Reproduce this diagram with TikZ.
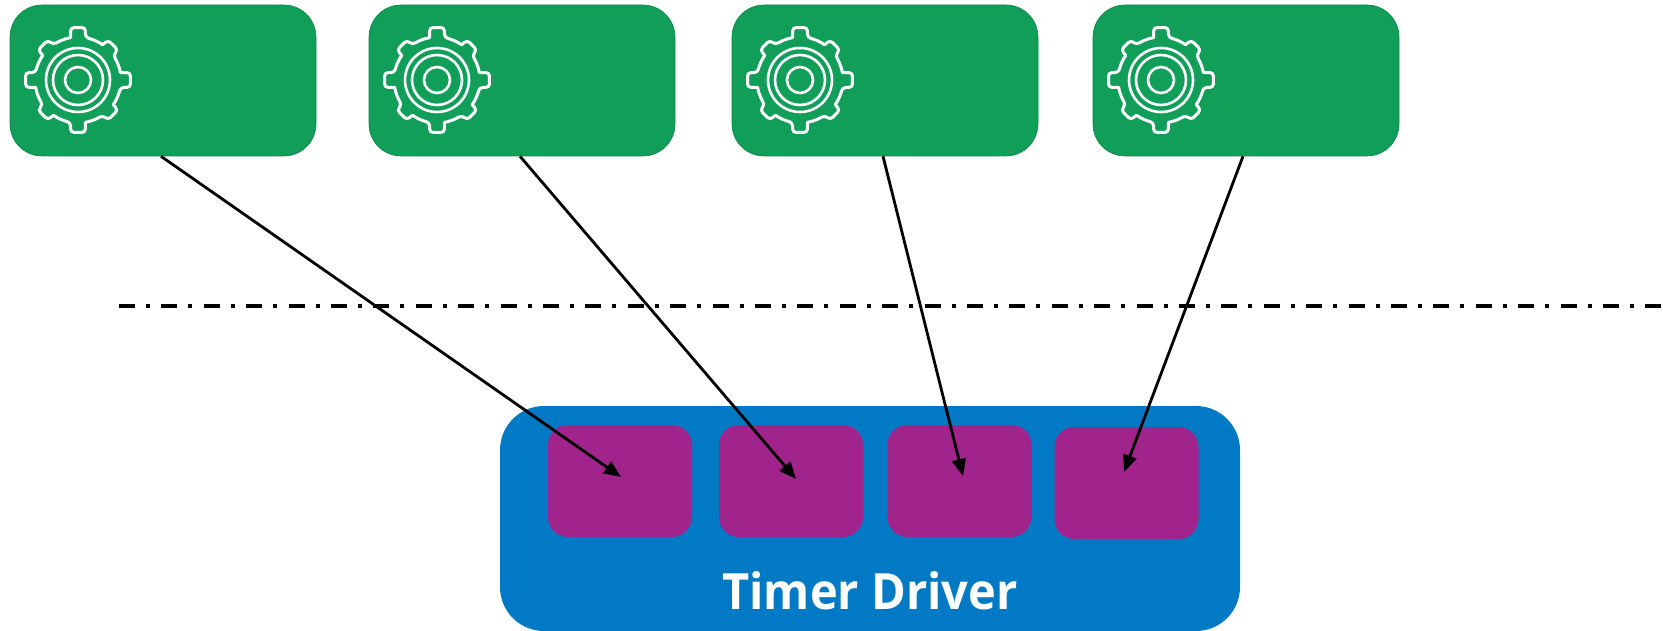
\documentclass[tikz,border=0pt]{standalone}
\usepackage{fontspec}
\setmainfont{Open Sans}
\usetikzlibrary{arrows.meta}
\definecolor{gbox}{HTML}{119E59}
\definecolor{bbox}{HTML}{0279C4}
\definecolor{pbox}{HTML}{A0248B}
\tikzset{
  x=1pt,y=-1pt,
  taskbox/.style={draw=gbox!85!black,line width=0.6pt,fill=gbox,rounded corners=32pt,minimum width=306pt,minimum height=151pt,inner sep=0pt},
  slotbox/.style={draw=none,fill=pbox,rounded corners=20pt,minimum width=144pt,minimum height=112pt,inner sep=0pt},
  driverbox/.style={draw=none,fill=bbox,rounded corners=44pt,minimum width=740pt,minimum height=225pt,inner sep=0pt},
  conn/.style={line width=2.8pt,-{Triangle[length=17pt,width=14pt]}},
  pics/gear/.style={code={
    \draw[white,line width=3pt,line join=round]
      (-10:43)
      \foreach \a/\r in {0/53,45/50,90/53,135/50,180/53,225/50,270/53,315/50} {
        [rounded corners=3.5pt] -- ({\a-8}:\r) -- ({\a+8}:\r) -- ({\a+10}:43)
        [sharp corners] -- ({\a+16}:43) -- ({\a+22.5}:43) -- ({\a+29}:43) -- ({\a+35}:43)
      } -- cycle;
    \draw[white,line width=2.6pt] (0,0) circle[radius=32pt] (0,0) circle[radius=25pt] (0,0) circle[radius=13pt];
  }}
}
\begin{document}
\begin{tikzpicture}
\useasboundingbox (0,0) rectangle (1663,631);
\node[taskbox] (g1) at (163,80.5) {};
\node[taskbox] (g2) at (522,80.5) {};
\node[taskbox] (g3) at (885,80.5) {};
\node[taskbox] (g4) at (1246,80.5) {};
\pic at (78,80) {gear};
\pic at (437,80) {gear};
\pic at (800,80) {gear};
\pic at (1161,80) {gear};
\node[driverbox] (drv) at (870,518.5) {};
\node[slotbox] (p1) at (620,481) {};
\node[slotbox] (p2) at (791,481) {};
\node[slotbox] (p3) at (959.5,481) {};
\node[slotbox] (p4) at (1126.5,483) {};
\node[anchor=base,text=white,inner sep=0pt,xscale=0.94,font=\fontsize{50pt}{50pt}\selectfont\bfseries] (lbl) at (870,609) {Timer Driver};
\coordinate (t1) at (621,477);
\coordinate (t2) at (796,479);
\coordinate (t3) at (963,476);
\coordinate (t4) at (1124,472);
\coordinate (da) at (119,306);
\coordinate (db) at (1663,306);
\draw[line width=4pt,dash pattern=on 16pt off 11pt on 4pt off 11.4pt] (da) -- (db);
\draw[conn] ([xshift=-2pt]g1.south) -- (t1);
\draw[conn] ([xshift=-2pt]g2.south) -- (t2);
\draw[conn] ([xshift=-2pt]g3.south) -- (t3);
\draw[conn] ([xshift=-3pt]g4.south) -- (t4);
\end{tikzpicture}
\end{document}
